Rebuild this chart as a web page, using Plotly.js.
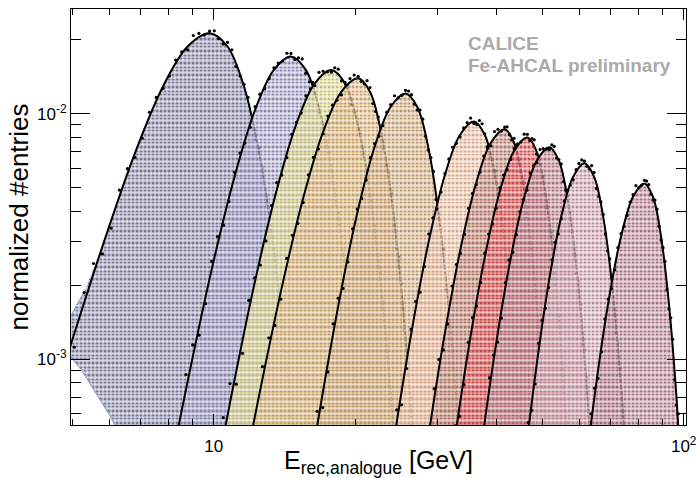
<!DOCTYPE html>
<html><head><meta charset="utf-8">
<script src="https://cdn.plot.ly/plotly-3.0.1.min.js"></script>
<style>html,body{margin:0;padding:0;background:#fff}#chart{width:697px;height:478px}</style>
</head><body><div id="chart"></div>
<script>
// Beam energies (GeV) of the eleven distributions
const beamEnergies = [10, 15, 18, 20, 25, 35, 40, 45, 50, 60, 80];

// Fitted curves (E in GeV, normalized entries)
const fitE10 = [3.8,4.8,5.8,6.8,7.8,8.8,9.8,10.7,11.6,12.5,13.4,14.3,15.2];
const fitV10 = [0.000237,0.000936,0.002882,0.006916,0.01292,0.0188,0.0213,0.0188,0.01292,0.006916,0.002882,0.000936,0.000237];
const fitE15 = [7.55,8.73,9.9,11.08,12.25,13.43,14.6,15.7,16.8,17.9,19.0,20.1,21.2];
const fitV15 = [0.00019,0.000751,0.002314,0.005552,0.01037,0.01509,0.0171,0.01509,0.01037,0.005552,0.002314,0.000751,0.00019];
const fitE18 = [9.43,10.83,12.22,13.62,15.01,16.41,17.8,19.02,20.23,21.45,22.66,23.88,25.09];
const fitV18 = [0.000167,0.000662,0.00204,0.004893,0.00914,0.0133,0.01507,0.0133,0.00914,0.004893,0.00204,0.000662,0.000167];
const fitE20 = [10.7,12.3,13.9,15.5,17.1,18.7,20.3,21.5,22.7,23.9,25.1,26.3,27.5];
const fitV20 = [0.000155,0.000613,0.001887,0.004526,0.008455,0.0123,0.01394,0.0123,0.008455,0.004526,0.001887,0.000613,0.000155];
const fitE25 = [14.8,16.6,18.4,20.2,22.0,23.8,25.6,27.1,28.6,30.1,31.6,33.1,34.6];
const fitV25 = [0.000134,0.000532,0.001638,0.003928,0.007339,0.01068,0.0121,0.01068,0.007339,0.003928,0.001638,0.000532,0.000134];
const fitE35 = [21.55,23.93,26.3,28.68,31.05,33.43,35.8,37.73,39.65,41.58,43.5,45.43,47.35];
const fitV35 = [0.000103,0.000409,0.001259,0.003019,0.005641,0.008207,0.0093,0.008207,0.005641,0.003019,0.001259,0.000409,0.000103];
const fitE40 = [25.4,28.1,30.8,33.5,36.2,38.9,41.6,43.55,45.5,47.45,49.4,51.35,53.3];
const fitV40 = [0.0000961,0.00038,0.001171,0.002808,0.005246,0.007634,0.00865,0.007634,0.005246,0.002808,0.001171,0.00038,0.0000961];
const fitE45 = [28.95,31.88,34.8,37.73,40.65,43.58,46.5,48.6,50.7,52.8,54.9,57.0,59.1];
const fitV45 = [0.0000889,0.000352,0.001083,0.002597,0.004852,0.00706,0.008,0.00706,0.004852,0.002597,0.001083,0.000352,0.0000889];
const fitE50 = [33.2,36.3,39.4,42.5,45.6,48.7,51.8,54.25,56.7,59.15,61.6,64.05,66.5];
const fitV50 = [0.0000811,0.000321,0.000988,0.00237,0.004428,0.006442,0.0073,0.006442,0.004428,0.00237,0.000988,0.000321,0.0000811];
const fitE60 = [41.7,45.0,48.3,51.6,54.9,58.2,61.5,64.45,67.4,70.35,73.3,76.25,79.2];
const fitV60 = [0.0000698,0.000276,0.00085,0.002039,0.003809,0.005542,0.00628,0.005542,0.003809,0.002039,0.00085,0.000276,0.0000698];
const fitE80 = [55.65,60.13,64.6,69.08,73.55,78.03,82.5,86.0,89.5,93.0,96.5,100.0,103.5];
const fitV80 = [0.0000578,0.000228,0.000704,0.001688,0.003154,0.004589,0.0052,0.004589,0.003154,0.001688,0.000704,0.000228,0.0000578];

// Outline of the 10 GeV filled histogram (its left edge runs off the frame)
const hist10E = [5.8,6.8,7.8,8.8,9.8,10.7,11.6,12.5,13.4,14.3,15.2,6.82,6.0,5.3,4.8,5.28];
const hist10V = [0.002882,0.006916,0.01292,0.0188,0.0213,0.0188,0.01292,0.006916,0.002882,0.000936,0.000237,0.0004,0.000593,0.00087,0.00118,0.001845];

// Data points (two interleaved sets of bins per energy)
const dotE10 = [4.3,4.8,5.3,5.8,6.3,6.8,7.3,7.8,8.3,8.8,9.3,9.8,10.25,10.7,11.15,11.6,12.05,12.5,12.95,13.4,13.85,14.3,14.75];
const dotV10 = [0.000572,0.000805,0.001865,0.002681,0.004883,0.006638,0.010142,0.012661,0.01656,0.018233,0.021264,0.021726,0.020232,0.019549,0.015596,0.013177,0.009362,0.007261,0.004331,0.003114,0.001526,0.001067,0.000412];
const dotE10b = [4.55,5.05,5.55,6.05,6.55,7.05,7.55,8.05,8.55,9.05,9.55,10.03,10.48,10.93,11.38,11.83,12.28,12.73,13.18,13.63,14.08,14.53];
const dotV10b = [0.000815,0.001118,0.002451,0.003416,0.005973,0.007946,0.011651,0.014235,0.017871,0.020847,0.020923,0.021768,0.019258,0.018222,0.014235,0.011651,0.007863,0.00603,0.003379,0.002451,0.001105,0.000801];
const dotE15 = [8.14,8.73,9.31,9.9,10.49,11.08,11.66,12.25,12.84,13.43,14.01,14.6,15.15,15.7,16.25,16.8,17.35,17.9,18.45,19.0,19.55,20.1,20.65];
const dotV15 = [0.000332,0.000864,0.001251,0.002499,0.003513,0.005774,0.007594,0.010683,0.01265,0.015393,0.016408,0.017613,0.016905,0.014638,0.013424,0.010061,0.00822,0.005274,0.003957,0.002129,0.001523,0.000661,0.000468];
const dotE15b = [8.43,9.02,9.61,10.19,10.78,11.37,11.96,12.54,13.13,13.72,14.31,14.88,15.43,15.98,16.53,17.08,17.63,18.18,18.73,19.28,19.83,20.38];
const dotV15b = [0.000491,0.001141,0.001681,0.003155,0.004384,0.006911,0.00881,0.012011,0.013925,0.016098,0.017646,0.016628,0.016736,0.013503,0.011894,0.00881,0.006977,0.004293,0.003185,0.001609,0.001172,0.000447];
const dotE18 = [10.13,10.83,11.52,12.22,12.92,13.62,14.31,15.01,15.71,16.41,17.1,17.8,18.41,19.02,19.62,20.23,20.84,21.45,22.05,22.66,23.27,23.88,24.48];
const dotV18 = [0.000377,0.000794,0.001055,0.002142,0.003031,0.005236,0.006624,0.009231,0.01183,0.013033,0.014898,0.014769,0.01519,0.013432,0.01092,0.009506,0.006762,0.0046,0.003455,0.002244,0.001079,0.000563,0.000394];
const dotE18b = [10.48,11.17,11.87,12.57,13.27,13.96,14.66,15.36,16.06,16.75,17.45,18.1,18.71,19.32,19.93,20.53,21.14,21.75,22.36,22.96,23.57,24.18];
const dotV18b = [0.000577,0.00079,0.001734,0.002417,0.004226,0.005622,0.008244,0.010071,0.012644,0.014749,0.014803,0.015402,0.013626,0.012892,0.010071,0.008244,0.005563,0.004267,0.002391,0.001734,0.000781,0.000568];
const dotE20 = [11.5,12.3,13.1,13.9,14.7,15.5,16.3,17.1,17.9,18.7,19.5,20.3,20.9,21.5,22.1,22.7,23.3,23.9,24.5,25.1,25.7,26.3,26.9];
const dotV20 = [0.000375,0.000527,0.00122,0.001755,0.003196,0.004345,0.006637,0.008286,0.010838,0.011933,0.013916,0.014219,0.013241,0.012794,0.010206,0.008624,0.006127,0.004752,0.002834,0.002038,0.000998,0.000699,0.00027];
const dotE20b = [11.9,12.7,13.5,14.3,15.1,15.9,16.7,17.5,18.3,19.1,19.9,20.6,21.2,21.8,22.4,23.0,23.6,24.2,24.8,25.4,26.0,26.6];
const dotV20b = [0.000401,0.000931,0.001371,0.002572,0.003574,0.005634,0.007182,0.009791,0.011352,0.013123,0.014385,0.013555,0.013643,0.011008,0.009696,0.007182,0.005688,0.0035,0.002596,0.001312,0.000956,0.000365];
const dotE25 = [15.7,16.6,17.5,18.4,19.3,20.2,21.1,22.0,22.9,23.8,24.7,25.6,26.35,27.1,27.85,28.6,29.35,30.1,30.85,31.6,32.35,33.1,33.85];
const dotV25 = [0.000235,0.000612,0.000886,0.001769,0.002486,0.004085,0.005374,0.007559,0.008951,0.010892,0.011611,0.012463,0.011963,0.010358,0.009499,0.007119,0.005817,0.003732,0.0028,0.001507,0.001079,0.000468,0.000331];
const dotE25b = [16.15,17.05,17.95,18.85,19.75,20.65,21.55,22.45,23.35,24.25,25.15,25.98,26.73,27.48,28.23,28.98,29.73,30.48,31.23,31.98,32.73,33.48];
const dotV25b = [0.000463,0.000634,0.001392,0.00194,0.003394,0.004514,0.006619,0.008086,0.010152,0.011842,0.011886,0.012366,0.01094,0.010351,0.008086,0.006619,0.004467,0.003426,0.001919,0.001392,0.000627,0.000455];
const dotE35 = [22.74,23.93,25.11,26.3,27.49,28.68,29.86,31.05,32.24,33.43,34.61,35.8,36.76,37.73,38.69,39.65,40.61,41.58,42.54,43.5,44.46,45.43,46.39];
const dotV35 = [0.000233,0.000491,0.000651,0.001322,0.00187,0.00323,0.004088,0.005697,0.007301,0.008043,0.009194,0.009114,0.009375,0.008289,0.006739,0.005867,0.004173,0.002838,0.002132,0.001385,0.000666,0.000348,0.000244];
const dotE35b = [23.33,24.52,25.71,26.89,28.08,29.27,30.46,31.64,32.83,34.02,35.21,36.28,37.24,38.21,39.17,40.13,41.09,42.06,43.02,43.98,44.94,45.91];
const dotV35b = [0.000267,0.00062,0.000915,0.001716,0.002385,0.003759,0.004791,0.006532,0.007574,0.008756,0.009597,0.009043,0.009102,0.007344,0.006469,0.004791,0.003795,0.002335,0.001732,0.000876,0.000637,0.000244];
const dotE40 = [26.75,28.1,29.45,30.8,32.15,33.5,34.85,36.2,37.55,38.9,40.25,41.6,42.58,43.55,44.53,45.5,46.48,47.45,48.43,49.4,50.38,51.35,52.33];
const dotV40 = [0.000232,0.000327,0.000757,0.001089,0.001983,0.002696,0.004118,0.005141,0.006725,0.007405,0.008636,0.008823,0.008216,0.007939,0.006333,0.005351,0.003802,0.002948,0.001759,0.001265,0.000619,0.000433,0.000167];
const dotE40b = [27.43,28.78,30.13,31.48,32.83,34.18,35.53,36.88,38.23,39.58,40.93,42.09,43.06,44.04,45.01,45.99,46.96,47.94,48.91,49.89,50.86,51.84];
const dotV40b = [0.000331,0.000454,0.000996,0.001388,0.002426,0.003227,0.004732,0.005781,0.007257,0.008466,0.008497,0.00884,0.007821,0.0074,0.005781,0.004732,0.003193,0.002449,0.001373,0.000996,0.000449,0.000326];
const dotE45 = [30.41,31.88,33.34,34.8,36.26,37.73,39.19,40.65,42.11,43.58,45.04,46.5,47.55,48.6,49.65,50.7,51.75,52.8,53.85,54.9,55.95,57.0,58.05];
const dotV45 = [0.000155,0.000405,0.000585,0.00117,0.001644,0.002701,0.003553,0.004998,0.005918,0.007201,0.007676,0.00824,0.007909,0.006848,0.006281,0.004706,0.003846,0.002467,0.001851,0.000996,0.000712,0.00031,0.000218];
const dotE45b = [31.14,32.61,34.07,35.53,36.99,38.46,39.92,41.38,42.84,44.31,45.77,47.03,48.08,49.13,50.18,51.23,52.28,53.33,54.38,55.43,56.48,57.53];
const dotV45b = [0.00023,0.000534,0.000787,0.001476,0.002052,0.003233,0.004122,0.00562,0.006515,0.007532,0.008256,0.007779,0.00783,0.006318,0.005565,0.004122,0.003264,0.002009,0.001489,0.000753,0.000549,0.000209];
const dotE50 = [34.75,36.3,37.85,39.4,40.95,42.5,44.05,45.6,47.15,48.7,50.25,51.8,53.03,54.25,55.48,56.7,57.93,59.15,60.38,61.6,62.83,64.05,65.28];
const dotV50 = [0.000183,0.000385,0.000511,0.001037,0.001468,0.002536,0.003208,0.004472,0.00573,0.006313,0.007217,0.007154,0.007358,0.006506,0.00529,0.004605,0.003275,0.002228,0.001674,0.001087,0.000523,0.000273,0.000191];
const dotE50b = [35.53,37.08,38.63,40.18,41.73,43.28,44.83,46.38,47.93,49.48,51.03,52.41,53.64,54.86,56.09,57.31,58.54,59.76,60.99,62.21,63.44,64.66];
const dotV50b = [0.00028,0.000383,0.000839,0.001171,0.002048,0.002724,0.003993,0.004878,0.006125,0.007144,0.007171,0.00746,0.0066,0.006245,0.004878,0.003993,0.002695,0.002067,0.001158,0.000839,0.000378,0.000275];
const dotE60 = [43.35,45.0,46.65,48.3,49.95,51.6,53.25,54.9,56.55,58.2,59.85,61.5,62.98,64.45,65.93,67.4,68.88,70.35,71.83,73.3,74.78,76.25,77.73];
const dotV60 = [0.000169,0.000237,0.00055,0.000791,0.001439,0.001957,0.00299,0.003733,0.004882,0.005376,0.00627,0.006406,0.005965,0.005764,0.004598,0.003885,0.00276,0.002141,0.001277,0.000918,0.00045,0.000315,0.000122];
const dotE60b = [44.18,45.83,47.48,49.13,50.78,52.43,54.08,55.73,57.38,59.03,60.68,62.24,63.71,65.19,66.66,68.14,69.61,71.09,72.56,74.04,75.51,76.99];
const dotV60b = [0.00018,0.000419,0.000618,0.001159,0.00161,0.002538,0.003235,0.004411,0.005114,0.005913,0.00648,0.006106,0.006147,0.004959,0.004369,0.003235,0.002562,0.001576,0.00117,0.000591,0.00043,0.000164];
const dotE80 = [57.89,60.13,62.36,64.6,66.84,69.08,71.31,73.55,75.79,78.03,80.26,82.5,84.25,86.0,87.75,89.5,91.25,93.0,94.75,96.5,98.25,100.0,101.75];
const dotV80 = [0.000101,0.000262,0.000381,0.00076,0.001069,0.001756,0.00231,0.003249,0.003847,0.004681,0.00499,0.005356,0.005141,0.004451,0.004082,0.003059,0.0025,0.001604,0.001204,0.000648,0.000464,0.000201,0.000143];
const dotE80b = [59.01,61.24,63.48,65.72,67.96,70.19,72.43,74.67,76.91,79.14,81.38,83.38,85.13,86.88,88.63,90.38,92.13,93.88,95.63,97.38,99.13,100.88];
const dotV80b = [0.000199,0.000273,0.000598,0.000834,0.001458,0.00194,0.002845,0.003475,0.004363,0.005089,0.005108,0.005315,0.004702,0.004448,0.003475,0.002845,0.00192,0.001472,0.000825,0.000598,0.00027,0.000196];

// Axis tick labels
const xTickVals = [10, 100];
const xTickText = ['10', '10<sup>2</sup>'];
const yTickVals = [0.001, 0.01];
const yTickText = ['10<sup>-3</sup>', '10<sup>-2</sup>'];

// ---------- styles ----------
const fillBg = ['rgba(176,176,198,0.64)','rgba(194,194,220,0.62)','rgba(236,230,176,0.62)','rgba(234,205,164,0.62)','rgba(226,198,164,0.62)','rgba(244,212,192,0.62)','rgba(210,168,158,0.64)','rgba(234,136,136,0.64)','rgba(206,166,172,0.64)','rgba(224,196,202,0.64)','rgba(208,170,180,0.64)'];
const fillFg = ['rgba(112,112,145,0.9)','rgba(128,128,170,0.9)','rgba(196,186,120,0.9)','rgba(192,156,108,0.9)','rgba(182,148,108,0.9)','rgba(210,164,136,0.9)','rgba(165,110,100,0.9)','rgba(200,70,76,0.9)','rgba(160,106,116,0.9)','rgba(180,134,144,0.9)','rgba(158,104,120,0.9)'];
const outline = ['rgb(140,150,200)','rgb(150,150,200)','rgb(210,205,130)','rgb(210,180,120)','rgb(200,170,130)','rgb(220,180,150)','rgb(185,135,125)','rgb(215,90,95)','rgb(180,125,135)','rgb(195,150,160)','rgb(185,135,145)'];

const fitE = [fitE10,fitE15,fitE18,fitE20,fitE25,fitE35,fitE40,fitE45,fitE50,fitE60,fitE80];
const fitV = [fitV10,fitV15,fitV18,fitV20,fitV25,fitV35,fitV40,fitV45,fitV50,fitV60,fitV80];
const dotE = [dotE10.concat(dotE10b),dotE15.concat(dotE15b),dotE18.concat(dotE18b),dotE20.concat(dotE20b),dotE25.concat(dotE25b),dotE35.concat(dotE35b),dotE40.concat(dotE40b),dotE45.concat(dotE45b),dotE50.concat(dotE50b),dotE60.concat(dotE60b),dotE80.concat(dotE80b)];
const dotV = [dotV10.concat(dotV10b),dotV15.concat(dotV15b),dotV18.concat(dotV18b),dotV20.concat(dotV20b),dotV25.concat(dotV25b),dotV35.concat(dotV35b),dotV40.concat(dotV40b),dotV45.concat(dotV45b),dotV50.concat(dotV50b),dotV60.concat(dotV60b),dotV80.concat(dotV80b)];

const traces = [];
beamEnergies.forEach((e, i) => {
  const fx = i === 0 ? hist10E : fitE[i];
  const fy = i === 0 ? hist10V : fitV[i];
  traces.push({
    type: 'scatter', mode: 'lines', x: fx, y: fy, fill: 'toself',
    fillcolor: fillBg[i],
    fillpattern: {shape: '.', size: 4, solidity: 0.45, fgcolor: fillFg[i], bgcolor: fillBg[i]},
    line: {color: outline[i], width: 1.2, shape: 'spline', smoothing: 1},
    hoverinfo: 'skip', showlegend: false, name: e + ' GeV'
  });
  // faint horizontal white striping of the hatched fill
  traces.push({
    type: 'scatter', mode: 'none', x: fx, y: fy, fill: 'toself',
    fillcolor: 'rgba(0,0,0,0)',
    fillpattern: {shape: '-', size: 6, solidity: 0.18, fgcolor: 'rgba(255,255,255,0.75)', bgcolor: 'rgba(0,0,0,0)'},
    line: {shape: 'spline', smoothing: 1, width: 0},
    hoverinfo: 'skip', showlegend: false
  });
  traces.push({
    type: 'scatter', mode: 'lines', x: fitE[i], y: fitV[i],
    line: {color: '#000', width: 2, shape: 'spline', smoothing: 1},
    hoverinfo: 'skip', showlegend: false
  });
  traces.push({
    type: 'scatter', mode: 'markers', x: dotE[i], y: dotV[i],
    marker: {color: '#000', size: 3.2},
    hoverinfo: 'skip', showlegend: false
  });
});

const font = 'Liberation Sans, Arial, Helvetica, sans-serif';
const layout = {
  width: 697, height: 478,
  margin: {l: 71, r: 11, t: 9, b: 53},
  paper_bgcolor: '#fff', plot_bgcolor: '#fff',
  font: {family: font, color: '#000'},
  showlegend: false,
  xaxis: {
    type: 'log', range: [0.6964, 2.0049], autorange: false,
    tickmode: 'array', tickvals: xTickVals, ticktext: xTickText,
    ticks: 'inside', ticklen: 11, tickwidth: 1, tickcolor: '#000',
    minor: {tickmode: 'array', tickvals: [5,6,7,8,9,20,30,40,50,60,70,80,90], ticks: 'inside', ticklen: 6, tickwidth: 1, tickcolor: '#000', showgrid: false},
    showline: true, linecolor: '#000', linewidth: 1, mirror: 'allticks',
    showgrid: false, zeroline: false,
    tickfont: {family: font, size: 17, color: '#000'},
    ticklabelstandoff: 6,
    title: {text: 'E<sub>rec,analogue</sub> [GeV]', font: {family: font, size: 25, color: '#000'}, standoff: 4},
    automargin: false
  },
  yaxis: {
    type: 'log', range: [-3.269, -1.573], autorange: false,
    tickmode: 'array', tickvals: yTickVals, ticktext: yTickText,
    ticks: 'inside', ticklen: 19, tickwidth: 1, tickcolor: '#000',
    minor: {tickmode: 'array', tickvals: [0.0006,0.0007,0.0008,0.0009,0.002,0.003,0.004,0.005,0.006,0.007,0.008,0.009,0.02], ticks: 'inside', ticklen: 10, tickwidth: 1, tickcolor: '#000', showgrid: false},
    showline: true, linecolor: '#000', linewidth: 1, mirror: 'allticks',
    showgrid: false, zeroline: false,
    tickfont: {family: font, size: 17, color: '#000'},
    title: {text: 'normalized #entries', font: {family: font, size: 26, color: '#000'}, standoff: 0},
    automargin: false
  },
  annotations: [
    {xref: 'paper', yref: 'paper', x: 0.642, y: 0.916, xanchor: 'left', yanchor: 'middle', showarrow: false,
     text: '<b>CALICE</b>', font: {family: font, size: 19, color: '#aaaaaa'}},
    {xref: 'paper', yref: 'paper', x: 0.642, y: 0.863, xanchor: 'left', yanchor: 'middle', showarrow: false,
     text: '<b>Fe-AHCAL preliminary</b>', font: {family: font, size: 19, color: '#aaaaaa'}}
  ]
};

Plotly.newPlot('chart', traces, layout, {displayModeBar: false, staticPlot: true});
</script>
</body></html>
